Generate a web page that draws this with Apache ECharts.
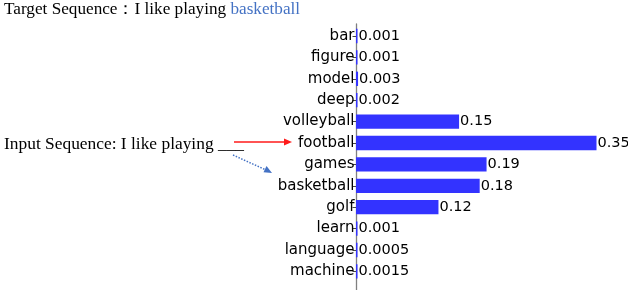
<!DOCTYPE html>
<html>
<head>
<meta charset="utf-8">
<script src="https://cdn.jsdelivr.net/npm/echarts@6/dist/echarts.min.js"></script>
<style>html,body{margin:0;padding:0;background:#fff;}#c{width:628px;height:290px;}</style>
</head>
<body>
<div id="c"></div>
<script>
const categories = ['bar','figure','model','deep','volleyball','football','games','basketball','golf','learn','language','machine'];
const values = [0.001,0.001,0.003,0.002,0.15,0.35,0.19,0.18,0.12,0.001,0.0005,0.0015];
const targetPrefix = 'Target Sequence\uFF1AI like playing ';
const targetWord = 'basketball';
const inputText = 'Input Sequence: I like playing ___';

const chart = echarts.init(document.getElementById('c'), null, {renderer: 'canvas'});
const serif = 'Liberation Serif, Times New Roman, serif';
const sans = 'DejaVu Sans';
chart.setOption({
  animation: false,
  title: [
    {left: 4, top: 1, padding: 0, text: '{a|' + targetPrefix + '}{b|' + targetWord + '}',
     textStyle: {fontWeight: 'normal', rich: {
       a: {fontFamily: serif, fontSize: 17.2, fontWeight: 'normal', color: '#000'},
       b: {fontFamily: serif, fontSize: 17.2, fontWeight: 'normal', color: '#4472c4'}
     }}},
    {left: 4, top: 135.5, padding: 0, text: inputText,
     textStyle: {fontFamily: serif, fontSize: 17.4, fontWeight: 'normal', color: '#000'}}
  ],
  grid: [
    {left: 356, top: 25.3, height: 256.8, right: 4},
    {left: 356, top: 24, bottom: 0, right: 4}
  ],
  xAxis: [
    {type: 'value', gridIndex: 0, min: 0, max: 0.39, show: false},
    {type: 'value', gridIndex: 1, min: 0, max: 1, show: false}
  ],
  yAxis: [
    {type: 'category', gridIndex: 0, data: categories, inverse: true,
     axisLine: {show: false},
     axisTick: {show: true, alignWithLabel: true, length: 3.5, lineStyle: {color: '#444', width: 1}},
     axisLabel: {fontFamily: sans, fontSize: 15, color: '#000', margin: 1.5}},
    {type: 'value', gridIndex: 1, min: 0, max: 1,
     axisLine: {show: true, onZero: false, lineStyle: {color: '#808080', width: 1.3}},
     axisTick: {show: false}, axisLabel: {show: false}, splitLine: {show: false}}
  ],
  series: [{
    type: 'bar', xAxisIndex: 0, yAxisIndex: 0,
    data: values,
    barWidth: '67%',
    barMinHeight: 1.5,
    itemStyle: {color: '#3333ff'},
    label: {show: true, position: 'right', distance: 1, fontFamily: sans, fontSize: 14.5, color: '#000',
            formatter: p => String(p.value)}
  }],
  graphic: [
    {type: 'line', shape: {x1: 234, y1: 142, x2: 286, y2: 142}, style: {stroke: '#ff1a1a', lineWidth: 1.5}},
    {type: 'polygon', shape: {points: [[292,142],[284,138.5],[284,145.5]]}, style: {fill: '#ff1a1a'}},
    {type: 'line', shape: {x1: 233, y1: 155, x2: 266, y2: 170}, style: {stroke: '#4472c4', lineWidth: 1.5, lineDash: [1.5, 1.5]}},
    {type: 'polygon', shape: {points: [[272,173],[263.5,172.3],[266.5,166]]}, style: {fill: '#4472c4'}}
  ]
});
</script>
</body>
</html>
